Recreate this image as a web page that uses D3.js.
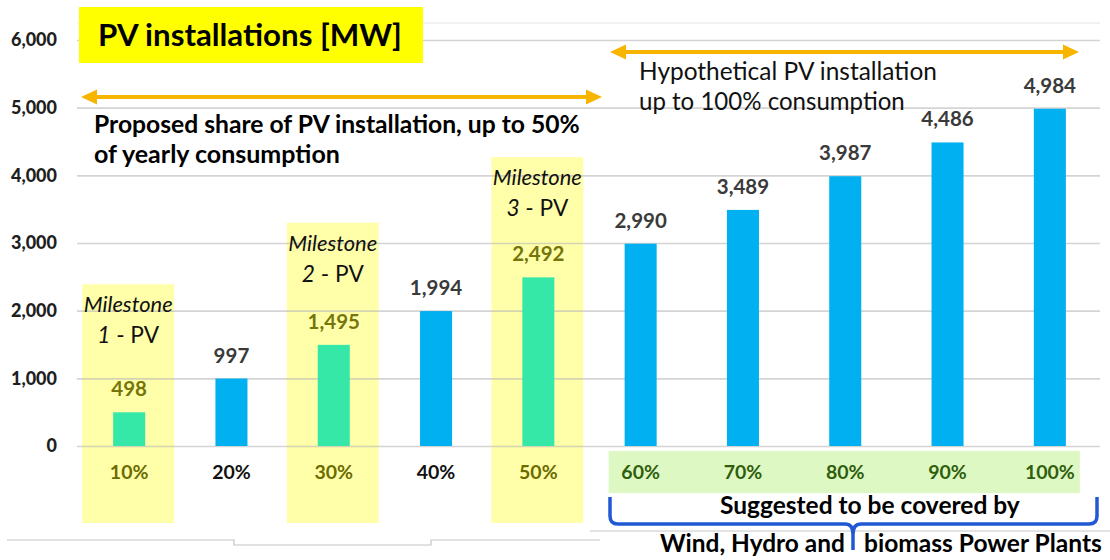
<!DOCTYPE html>
<html>
<head>
<meta charset="utf-8">
<script src="https://cdn.jsdelivr.net/npm/d3@7"></script>
<style>
  body { margin: 0; background: #fff; }
  svg { display: block; font-family: Lato, "Open Sans", sans-serif; }
</style>
</head>
<body>
<div id="chart"></div>
<script>
// data
const shares = ["10%", "20%", "30%", "40%", "50%", "60%", "70%", "80%", "90%", "100%"];
const pvMW = [498, 997, 1495, 1994, 2492, 2990, 3489, 3987, 4486, 4984];
const milestoneShares = ["10%", "30%", "50%"];
const milestoneNo = ["1", "2", "3"];
const coveredShares = ["60%", "70%", "80%", "90%", "100%"];
const yTicks = [0, 1000, 2000, 3000, 4000, 5000, 6000];

const W = 1110, H = 560;

const svg = d3.select("#chart")
  .append("svg")
  .attr("width", W)
  .attr("height", H);

const x = d3.scaleBand()
  .domain(shares)
  .range([78, 1101])
  .paddingInner(0.687)
  .paddingOuter(0.3435);

const y = d3.scaleLinear()
  .domain([0, 6000])
  .range([446, 40]);

const cx = d => x(d) + x.bandwidth() / 2;
const isMilestone = s => milestoneShares.includes(s);

// make a text element exactly as wide as in the picture
function fit(t, w) {
  const fs = parseFloat(t.attr("font-size"));
  const len = t.node().getComputedTextLength();
  t.attr("font-size", fs * w / len);
  return t;
}

// frame lines of the pasted picture
svg.append("line")
  .attr("x1", 77).attr("x2", 1100).attr("y1", 23).attr("y2", 23)
  .attr("stroke", "#eeeeee").attr("stroke-width", 1.5);

svg.append("path")
  .attr("d", "M7,540 H234 V545 H431 V540 H600")
  .attr("fill", "none").attr("stroke", "#c4c4c4").attr("stroke-width", 1.2);
svg.append("path")
  .attr("d", "M590,531 H1110")
  .attr("fill", "none").attr("stroke", "#c8c8c8").attr("stroke-width", 1.2);

// milestone highlight boxes
const boxTopVal = [2390, 3300, 4270];
svg.selectAll(".mbox")
  .data(milestoneShares)
  .enter()
  .append("rect")
  .attr("class", "mbox")
  .attr("x", d => cx(d) - 47)
  .attr("width", 92)
  .attr("y", (d, i) => y(boxTopVal[i]))
  .attr("height", (d, i) => 523 - y(boxTopVal[i]))
  .attr("fill", "#ffffaa");

// light green strip under the 60-100% labels
svg.append("rect")
  .attr("x", cx("60%") - 32)
  .attr("width", cx("100%") + 30 - (cx("60%") - 32))
  .attr("y", 451)
  .attr("height", 42)
  .attr("fill", "#def8c4");

// y axis with gridlines
const yAxis = d3.axisLeft(y)
  .tickValues(yTicks)
  .tickFormat(d3.format(","))
  .tickSize(-(1100 - 77))
  .tickPadding(20);

const gy = svg.append("g")
  .attr("transform", "translate(77,0)")
  .call(yAxis);
gy.select(".domain").remove();
gy.selectAll(".tick line")
  .attr("stroke", "#b8b8b8")
  .attr("stroke-opacity", 0.6)
  .attr("stroke-width", 1.6);
gy.selectAll(".tick text")
  .attr("font-size", 18)
  .attr("font-weight", 900)
  .attr("fill", "#1e1e1e")
  .attr("font-family", "Lato, sans-serif");

// bars
svg.selectAll(".bar")
  .data(shares)
  .enter()
  .append("rect")
  .attr("class", "bar")
  .attr("x", d => x(d))
  .attr("width", x.bandwidth())
  .attr("y", (d, i) => y(pvMW[i]))
  .attr("height", (d, i) => y(0) - y(pvMW[i]))
  .attr("fill", d => isMilestone(d) ? "#35e8a8" : "#00b0f0");

// value labels
svg.selectAll(".val")
  .data(shares)
  .enter()
  .append("text")
  .attr("class", "val")
  .attr("x", d => cx(d))
  .attr("y", (d, i) => y(pvMW[i]) - 16)
  .attr("text-anchor", "middle")
  .attr("font-size", 20.5)
  .attr("font-weight", "bold")
  .attr("fill", d => isMilestone(d) ? "#75750a" : "#3a3a3a")
  .text((d, i) => d3.format(",")(pvMW[i]));

// category labels
const xAxis = d3.axisBottom(x).tickSize(0);
const gx = svg.append("g")
  .attr("transform", "translate(0,446)")
  .call(xAxis);
gx.select(".domain").remove();
gx.selectAll(".tick text")
  .attr("y", 33)
  .attr("dy", null)
  .attr("font-size", 19.5)
  .attr("font-weight", "bold")
  .attr("font-family", "Lato, sans-serif")
  .attr("fill", d => isMilestone(d) ? "#6b6b00" : (coveredShares.includes(d) ? "#2f5e0c" : "#111"));

// milestone captions
milestoneShares.forEach((s, i) => {
  const top = y(boxTopVal[i]);
  const t1 = svg.append("text")
    .attr("x", cx(s) - 1)
    .attr("y", top + 28)
    .attr("text-anchor", "middle")
    .attr("font-size", 20)
    .attr("font-style", "italic")
    .attr("fill", "#111")
    .text("Milestone");
  fit(t1, 89);
  const t2 = svg.append("text")
    .attr("x", cx(s) - 1)
    .attr("y", top + 59)
    .attr("text-anchor", "middle")
    .attr("font-size", 24)
    .attr("fill", "#111");
  t2.append("tspan").attr("font-style", "italic").text(milestoneNo[i]);
  t2.append("tspan").text(" - PV");
  fit(t2, 62);
});

// title
svg.append("rect")
  .attr("x", 79).attr("y", 7)
  .attr("width", 344).attr("height", 56)
  .attr("fill", "#ffff00");
fit(svg.append("text")
  .attr("x", 98).attr("y", 46)
  .attr("font-size", 30)
  .attr("font-weight", "bold")
  .attr("fill", "#000")
  .text("PV installations [MW]"), 304);

// orange double arrows
function arrow(x1, x2, yy) {
  const g = svg.append("g").attr("fill", "#f8b500");
  g.append("line")
    .attr("x1", x1 + 10).attr("x2", x2 - 10)
    .attr("y1", yy).attr("y2", yy)
    .attr("stroke", "#f8b500").attr("stroke-width", 4);
  g.append("path").attr("d", `M${x1},${yy} L${x1 + 16},${yy - 7.5} L${x1 + 16},${yy + 7.5} Z`);
  g.append("path").attr("d", `M${x2},${yy} L${x2 - 16},${yy - 7.5} L${x2 - 16},${yy + 7.5} Z`);
}
arrow(81, 602, 97);
arrow(610, 1079, 52);

// annotation texts
fit(svg.append("text")
  .attr("x", 94).attr("y", 133)
  .attr("font-size", 22).attr("font-weight", "bold").attr("fill", "#000")
  .text("Proposed share of PV installation, up to 50%"), 486);
fit(svg.append("text")
  .attr("x", 94).attr("y", 163)
  .attr("font-size", 22).attr("font-weight", "bold").attr("fill", "#000")
  .text("of yearly consumption"), 246);

fit(svg.append("text")
  .attr("x", 639).attr("y", 80)
  .attr("font-size", 22).attr("fill", "#111")
  .text("Hypothetical  PV installation"), 298);
fit(svg.append("text")
  .attr("x", 639).attr("y", 110)
  .attr("font-size", 22).attr("fill", "#111")
  .text("up to 100% consumption"), 266);

// blue brace under 60-100%
svg.append("path")
  .attr("d", "M610,497 V516 Q610,524 618,524 H845 Q853,524 853,534 V550 M853,534 Q853,524 861,524 H1089 Q1097,524 1097,516 V497")
  .attr("fill", "none")
  .attr("stroke", "#2158d4")
  .attr("stroke-width", 3.5);

fit(svg.append("text")
  .attr("x", 720).attr("y", 514)
  .attr("font-size", 21).attr("font-weight", "bold").attr("fill", "#000")
  .text("Suggested to be covered by"), 300);
fit(svg.append("text")
  .attr("x", 660).attr("y", 552)
  .attr("font-size", 21).attr("font-weight", "bold").attr("fill", "#000")
  .text("Wind, Hydro and"), 185);
fit(svg.append("text")
  .attr("x", 864).attr("y", 552)
  .attr("font-size", 21).attr("font-weight", "bold").attr("fill", "#000")
  .text("biomass Power Plants"), 238);
</script>
</body>
</html>
